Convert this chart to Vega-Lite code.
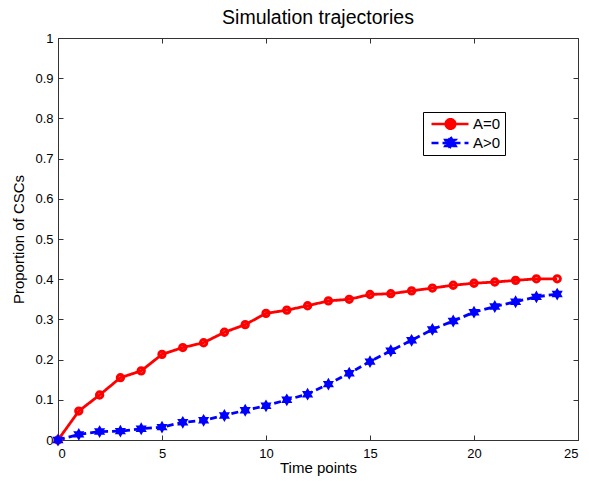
{
  "$schema": "https://vega.github.io/schema/vega-lite/v6.json",
  "width": 520,
  "height": 402,
  "autosize": {"type": "none"},
  "padding": {"left": 58, "top": 38, "right": 11, "bottom": 41},
  "background": "white",
  "title": {"text": "Simulation trajectories", "font": "Liberation Sans", "fontSize": 19.5, "fontWeight": "normal", "color": "black", "offset": 4},
  "config": {
    "view": {"stroke": "#333333", "strokeWidth": 1},
    "axis": {"labelFont": "Liberation Sans", "titleFont": "Liberation Sans", "labelFontSize": 13, "titleFontSize": 15, "titleFontWeight": "normal", "labelColor": "black", "titleColor": "black", "domainColor": "#333333", "tickColor": "#333333", "grid": false, "tickSize": -5}
  },
  "data": {"values": [
    {"t":0,"s":"A=0","p":0},{"t":1,"s":"A=0","p":0.072},{"t":2,"s":"A=0","p":0.112},{"t":3,"s":"A=0","p":0.155},{"t":4,"s":"A=0","p":0.172},{"t":5,"s":"A=0","p":0.213},{"t":6,"s":"A=0","p":0.230},{"t":7,"s":"A=0","p":0.242},{"t":8,"s":"A=0","p":0.268},{"t":9,"s":"A=0","p":0.287},{"t":10,"s":"A=0","p":0.315},{"t":11,"s":"A=0","p":0.323},{"t":12,"s":"A=0","p":0.334},{"t":13,"s":"A=0","p":0.346},{"t":14,"s":"A=0","p":0.350},{"t":15,"s":"A=0","p":0.362},{"t":16,"s":"A=0","p":0.364},{"t":17,"s":"A=0","p":0.371},{"t":18,"s":"A=0","p":0.378},{"t":19,"s":"A=0","p":0.385},{"t":20,"s":"A=0","p":0.390},{"t":21,"s":"A=0","p":0.393},{"t":22,"s":"A=0","p":0.397},{"t":23,"s":"A=0","p":0.401},{"t":24,"s":"A=0","p":0.401},
    {"t":0,"s":"A>0","p":0},{"t":1,"s":"A>0","p":0.014},{"t":2,"s":"A>0","p":0.021},{"t":3,"s":"A>0","p":0.022},{"t":4,"s":"A>0","p":0.028},{"t":5,"s":"A>0","p":0.032},{"t":6,"s":"A>0","p":0.044},{"t":7,"s":"A>0","p":0.049},{"t":8,"s":"A>0","p":0.061},{"t":9,"s":"A>0","p":0.074},{"t":10,"s":"A>0","p":0.085},{"t":11,"s":"A>0","p":0.100},{"t":12,"s":"A>0","p":0.114},{"t":13,"s":"A>0","p":0.139},{"t":14,"s":"A>0","p":0.166},{"t":15,"s":"A>0","p":0.195},{"t":16,"s":"A>0","p":0.222},{"t":17,"s":"A>0","p":0.248},{"t":18,"s":"A>0","p":0.275},{"t":19,"s":"A>0","p":0.296},{"t":20,"s":"A>0","p":0.318},{"t":21,"s":"A>0","p":0.332},{"t":22,"s":"A>0","p":0.344},{"t":23,"s":"A>0","p":0.356},{"t":24,"s":"A>0","p":0.363}
  ]},
  "layer": [
    {
      "mark": {"type": "line", "strokeWidth": 2.8},
      "encoding": {
        "x": {"field": "t", "type": "quantitative", "scale": {"domain": [0, 25], "nice": false}, "axis": {"orient": "bottom", "values": [0,5,10,15,20,25], "title": "Time points", "titlePadding": 0, "labelPadding": 12}},
        "y": {"field": "p", "type": "quantitative", "scale": {"domain": [0, 1], "nice": false}, "axis": {"orient": "left", "values": [0,0.1,0.2,0.3,0.4,0.5,0.6,0.7,0.8,0.9,1], "format": "~g", "title": "Proportion of CSCs", "titlePadding": 8, "labelPadding": 10}},
        "color": {"field": "s", "type": "nominal", "scale": {"domain": ["A=0","A>0"], "range": ["#ff0000","#0000ff"]},
          "legend": {"title": null, "orient": "none", "legendX": 365, "legendY": 74, "direction": "vertical",
            "strokeColor": "black", "fillColor": "white", "padding": 4, "rowPadding": 3, "clipHeight": 16,
            "labelFont": "Liberation Sans", "labelFontSize": 15, "labelColor": "black", "labelOffset": 27,
            "symbolSize": 256, "symbolStrokeWidth": 2.5,
            "encode": {"symbols": {"update": {
              "shape": {"signal": "datum.value === 'A=0' ? 'M-0.625,0H4M2.35,0A0.6,0.6 0 1,1 1.15,0A0.6,0.6 0 1,1 2.35,0Z' : 'M-0.625,0H4M1.75,-0.75L1.967,-0.375L2.4,-0.375L2.183,0L2.4,0.375L1.967,0.375L1.75,0.75L1.533,0.375L1.1,0.375L1.317,0L1.1,-0.375L1.533,-0.375Z'"},
              "strokeDash": {"signal": "datum.value === 'A=0' ? [] : [6,4]"},
              "fill": {"signal": "datum.value === 'A=0' ? '#ff0000' : '#0000ff'"},
              "fillOpacity": {"value": 1}
            }}}}},
        "strokeDash": {"field": "s", "type": "nominal", "scale": {"domain": ["A=0","A>0"], "range": [[1,0],[7,4]]}, "legend": null}
      }
    },
    {
      "transform": [{"filter": "datum.s === 'A=0'"}],
      "mark": {"type": "point", "filled": false, "opacity": 1, "color": "#ff0000", "shape": "circle", "size": 40, "strokeWidth": 3},
      "encoding": {
        "x": {"field": "t", "type": "quantitative", "axis": {"orient": "top", "values": [0,5,10,15,20,25], "labels": false, "title": null, "domain": false}},
        "y": {"field": "p", "type": "quantitative", "axis": {"orient": "right", "values": [0,0.1,0.2,0.3,0.4,0.5,0.6,0.7,0.8,0.9,1], "labels": false, "title": null, "domain": false}}
      }
    },
    {
      "transform": [{"filter": "datum.s === 'A>0'"}],
      "mark": {"type": "point", "filled": true, "opacity": 1, "color": "#0000ff", "size": 165, "shape": "M0,-1L0.289,-0.5L0.866,-0.5L0.577,0L0.866,0.5L0.289,0.5L0,1L-0.289,0.5L-0.866,0.5L-0.577,0L-0.866,-0.5L-0.289,-0.5Z"},
      "encoding": {
        "x": {"field": "t", "type": "quantitative", "axis": null},
        "y": {"field": "p", "type": "quantitative", "axis": null}
      }
    }
  ],
  "resolve": {"axis": {"x": "independent", "y": "independent"}}
}
